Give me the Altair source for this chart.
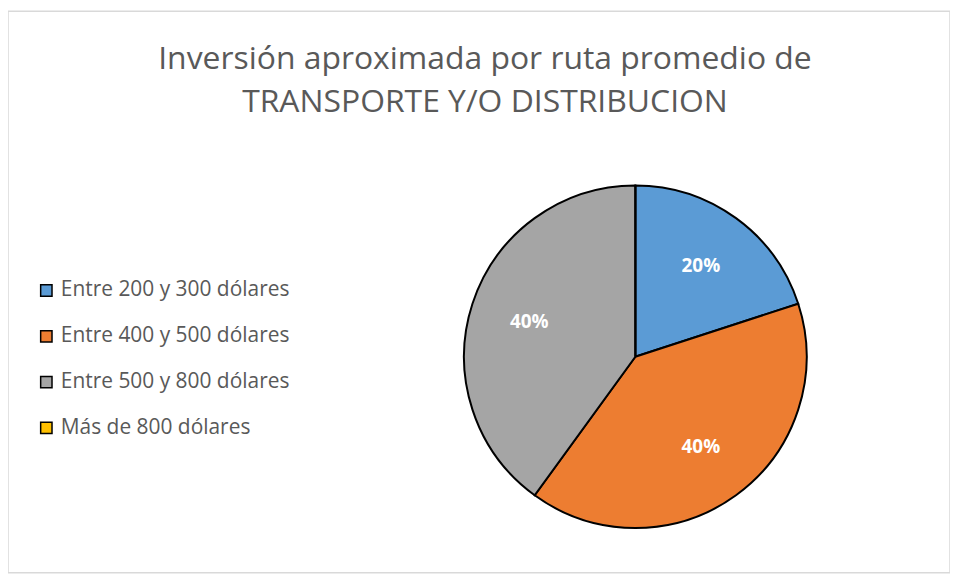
import altair as alt
import pandas as pd

categories = ["Entre 200 y 300 dólares", "Entre 400 y 500 dólares",
              "Entre 500 y 800 dólares", "\u00a0Más de 800 dólares"]
shares = [20, 40, 40, 0]
colors = ["#5B9BD5", "#ED7D31", "#A5A5A5", "#FFC000"]
title_lines = ["Inversión aproximada por ruta promedio de",
               "TRANSPORTE Y/O DISTRIBUCION"]

df = pd.DataFrame({"cat": categories, "share": shares,
                   "idx": list(range(len(categories)))})

W, H = 946, 564
CX, CY, R = 630, 347, 172

base = alt.Chart(df).encode(
    theta=alt.Theta("share:Q", stack=True),
    order=alt.Order("idx:Q"),
    x=alt.value(CX),
    y=alt.value(CY),
)

pie = base.mark_arc(outerRadius=R, stroke="black", strokeWidth=2).encode(
    color=alt.Color(
        "cat:N",
        scale=alt.Scale(domain=categories, range=colors),
        sort=categories,
        legend=alt.Legend(
            title=None, orient="none", legendX=28, legendY=270,
            symbolType="square", symbolSize=130,
            symbolStrokeColor="black", symbolStrokeWidth=1.5,
            labelFont="Open Sans", labelFontSize=21, labelColor="#595959",
            rowPadding=24, labelOffset=4, labelLimit=400,
        ),
    )
)

labels = base.transform_filter("datum.share > 0").transform_calculate(
    lbl="datum.share + '%'"
).mark_text(
    radius=112, font="Open Sans", fontSize=19, fontWeight="bold", color="white"
).encode(text="lbl:N")

title = alt.Chart(pd.DataFrame({"t": [0]})).mark_text(
    font="Open Sans", fontSize=32, color="#595959", lineHeight=43,
    align="center", baseline="middle",
).encode(x=alt.value(479), y=alt.value(48), text=alt.value(title_lines))

chart = alt.layer(pie, labels, title).properties(
    width=W, height=H, padding={"top": 2, "left": 0, "right": 0, "bottom": 0}
).configure_view(stroke="#d9d9d9", strokeWidth=1.5)

chart.save("out.html", embed_options={"renderer": "svg", "actions": False})
